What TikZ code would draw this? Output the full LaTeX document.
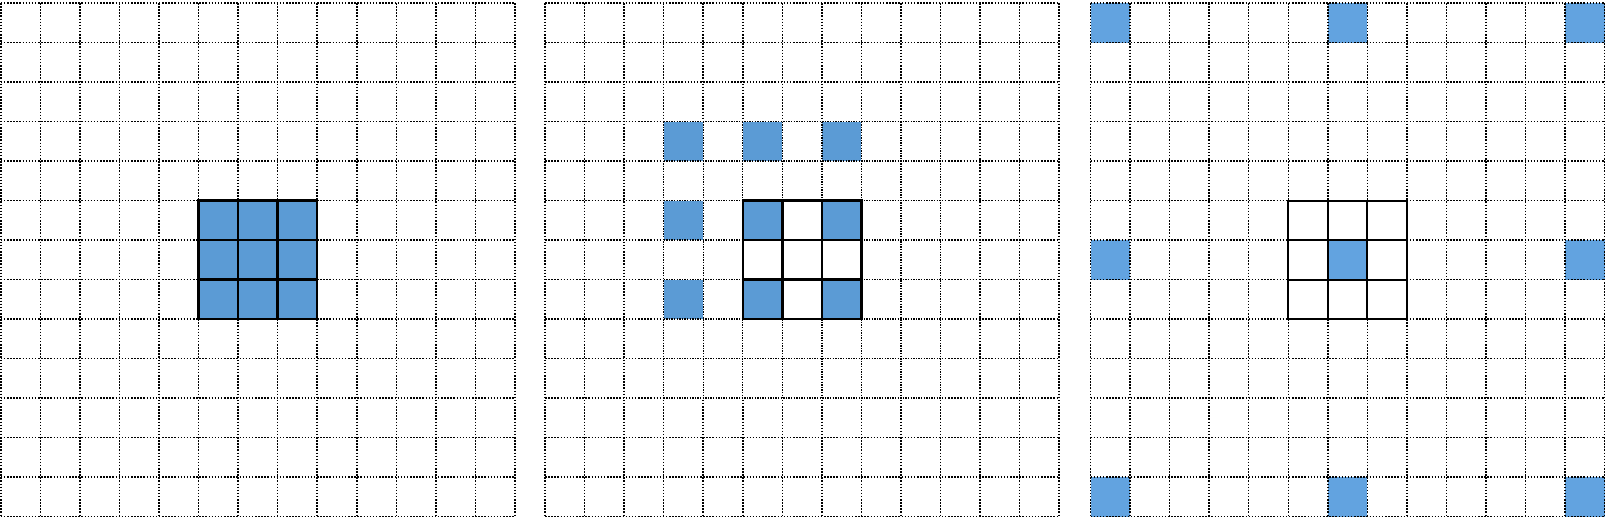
\documentclass[tikz,border=0pt]{standalone}
\definecolor{cellblue}{HTML}{5B9BD5}
\definecolor{cellbluelt}{HTML}{62A3E0}
\begin{document}
\begin{tikzpicture}[x=1pt,y=-1pt,
  gridline/.style={line width=1.5pt, dash pattern=on 1.5pt off 1.6pt, black},
  finegrid/.style={line width=1.4pt, dash pattern=on 1.4pt off 1.2pt, black},
  boldline/.style={line width=2.4pt, black, line cap=rect},
  panelunits/.style={x=39.55pt, y=-39.5pt}]
\useasboundingbox (0,0) rectangle (1607,520);
\fill[white] (0,0) rectangle (1607,520);
% ---------- panel 1 ----------
\begin{scope}[shift={(0.8pt,-3pt)}, panelunits]
  \fill[cellblue] (5,5) rectangle (8,8);
  \foreach \i in {0,...,13} {
    \draw[gridline] (\i,0) -- (\i,13);
    \draw[gridline] (0,\i) -- (13,\i);
  }
  \foreach \i in {5,...,8} {
    \draw[boldline] (\i,5) -- (\i,8);
    \draw[boldline] (5,\i) -- (8,\i);
  }
\end{scope}
% ---------- panel 2 ----------
\begin{scope}[shift={(545pt,-3pt)}, panelunits]
  \foreach \r in {3,5,7} {
    \foreach \c in {3,5,7} {
      \fill[cellblue] (\c,\r) rectangle (\c+1,\r+1);
    }
  }
  \foreach \i in {0,...,13} {
    \draw[gridline] (\i,0) -- (\i,13);
    \draw[gridline] (0,\i) -- (13,\i);
  }
  \foreach \i in {3,...,10} {
    \draw[white, line width=1.8pt] (\i,3) -- (\i,10);
    \draw[white, line width=1.8pt] (3,\i) -- (10,\i);
  }
  \foreach \r in {3,5,7} {
    \foreach \c in {3,5,7} {
      \fill[cellblue] (\c,\r) rectangle (\c+1,\r+1);
    }
  }
  \foreach \i in {3,...,10} {
    \draw[finegrid] (\i,3) -- (\i,10);
    \draw[finegrid] (3,\i) -- (10,\i);
  }
  \foreach \i in {5,...,8} {
    \draw[boldline] (\i,5) -- (\i,8);
    \draw[boldline] (5,\i) -- (8,\i);
  }
\end{scope}
% ---------- panel 3 ----------
\begin{scope}[shift={(1090.5pt,-3pt)}, panelunits]
  \foreach \r in {0,6,12} {
    \foreach \c in {0,6,12} {
      \fill[cellbluelt] (\c,\r) rectangle (\c+1,\r+1);
    }
  }
  \foreach \i in {0,...,13} {
    \draw[gridline] (\i,0) -- (\i,13);
    \draw[gridline] (0,\i) -- (13,\i);
  }
  \foreach \i in {5,...,8} {
    \draw[boldline, line width=2pt] (\i,5) -- (\i,8);
    \draw[boldline, line width=2pt] (5,\i) -- (8,\i);
  }
\end{scope}
\end{tikzpicture}
\end{document}
